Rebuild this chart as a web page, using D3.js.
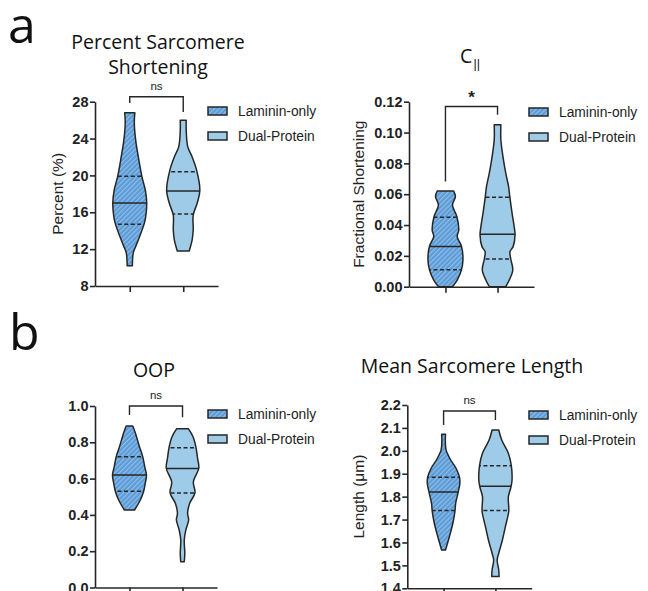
<!DOCTYPE html>
<html><head><meta charset="utf-8">
<script src="https://cdn.jsdelivr.net/npm/d3@7"></script>
<style>body{margin:0;background:#fff}</style>
</head><body>
<svg id="c" width="648" height="591"></svg>
<script>
// ---------------- DATA ----------------
const groups = ["Laminin-only", "Dual-Protein"];

// Percent Sarcomere Shortening (value, relative density) + quartiles [Q1, median, Q3]
const pssTicks = [8, 12, 16, 20, 24, 28];
const pssLamV = [26.8, 25.7, 23.8, 22.0, 19.9, 18.4, 17.0, 15.5, 14.8, 13.4, 12.3, 11.6, 10.2];
const pssLamD = [0.29, 0.26, 0.34, 0.49, 0.69, 0.89, 0.97, 0.91, 0.83, 0.57, 0.34, 0.20, 0.15];
const pssLamQ = [14.7, 17.0, 19.9];
const pssDualV = [26.0, 24.9, 23.1, 22.0, 20.6, 18.4, 17.0, 15.7, 14.1, 13.0, 11.8];
const pssDualD = [0.17, 0.17, 0.26, 0.51, 0.76, 0.95, 0.80, 0.57, 0.57, 0.51, 0.34];
const pssDualQ = [15.8, 18.3, 20.4];

// C-parallel fractional shortening
const cTicks = [0, 0.02, 0.04, 0.06, 0.08, 0.10, 0.12];
const cLamV = [0.062, 0.0585, 0.053, 0.0455, 0.0368, 0.0325, 0.0264, 0.0173, 0.0108, 0.0043, 0.0];
const cLamD = [0.47, 0.57, 0.40, 0.65, 0.76, 0.67, 0.91, 1.00, 0.91, 0.67, 0.40];
const cLamQ = [0.011, 0.026, 0.045];
const cDualV = [0.105, 0.0953, 0.0844, 0.0736, 0.065, 0.0584, 0.0477, 0.039, 0.0336, 0.026, 0.0227, 0.0178, 0.0108, 0.0043, 0.0];
const cDualD = [0.19, 0.19, 0.31, 0.47, 0.63, 0.70, 0.83, 0.95, 1.00, 0.89, 0.71, 0.76, 0.87, 0.67, 0.47];
const cDualQ = [0.018, 0.034, 0.058];

// OOP
const oopTicks = [0, 0.2, 0.4, 0.6, 0.8, 1.0];
const oopLamV = [0.89, 0.85, 0.776, 0.72, 0.666, 0.62, 0.574, 0.53, 0.482, 0.427];
const oopLamD = [0.19, 0.34, 0.57, 0.76, 0.87, 0.97, 0.90, 0.81, 0.62, 0.29];
const oopLamQ = [0.53, 0.62, 0.72];
const oopDualV = [0.875, 0.831, 0.776, 0.712, 0.657, 0.583, 0.522, 0.464, 0.409, 0.372, 0.317, 0.262, 0.188, 0.142];
const oopDualD = [0.33, 0.60, 0.76, 0.86, 0.93, 0.62, 0.71, 0.41, 0.29, 0.35, 0.19, 0.10, 0.13, 0.10];
const oopDualQ = [0.52, 0.655, 0.77];

// Mean Sarcomere Length
const mslTicks = [1.4, 1.5, 1.6, 1.7, 1.8, 1.9, 2.0, 2.1, 2.2];
const mslLamV = [2.072, 2.047, 2.004, 1.96, 1.924, 1.885, 1.858, 1.819, 1.771, 1.737, 1.684, 1.625, 1.567];
const mslLamD = [0.11, 0.10, 0.14, 0.41, 0.71, 0.91, 0.93, 0.83, 0.69, 0.65, 0.53, 0.33, 0.11];
const mslLamQ = [1.74, 1.82, 1.885];
const mslDualV = [2.091, 2.047, 1.989, 1.934, 1.873, 1.843, 1.8, 1.756, 1.734, 1.669, 1.611, 1.553, 1.524, 1.48, 1.451];
const mslDualD = [0.19, 0.36, 0.74, 0.91, 0.95, 0.89, 0.74, 0.76, 0.76, 0.57, 0.40, 0.19, 0.10, 0.19, 0.21];
const mslDualQ = [1.74, 1.845, 1.935];

// ---------------- LAYOUT / STYLE ----------------
const INK = "#262626";
const lamFill = "#5b9bd6", lamHatch = "#93c0ea", dualFill = "#9ecbe8";
const titleFont = "'Open Sans', 'Noto Sans', sans-serif";
const sansFont = "'Liberation Sans', Arial, sans-serif";

const svg = d3.select("#c");
const defs = svg.append("defs");
const pat = defs.append("pattern").attr("id", "hatch").attr("patternUnits", "userSpaceOnUse")
  .attr("width", 3.4).attr("height", 3.4).attr("patternTransform", "rotate(45)");
pat.append("rect").attr("width", 3.4).attr("height", 3.4).attr("fill", lamFill);
pat.append("line").attr("x1", 0.6).attr("y1", 0).attr("x2", 0.6).attr("y2", 3.4)
  .attr("stroke", lamHatch).attr("stroke-width", 1.1);

const panels = [
  { title: ["Percent Sarcomere", "Shortening"], titleX: 158, titleY: [49, 74],
    left: 95, right: 218, top: 101.7, bottom: 286, domain: [8, 28], ticks: pssTicks, fmt: d3.format("d"), pad: 0.65,
    ylabel: "Percent (%)", ylabelDx: -38, legendX: 208, legendY: 107,
    bracket: { y: 28.54, l: 27.86, r: 26.88, text: "ns" },
    vio: [[pssLamV, pssLamD, pssLamQ], [pssDualV, pssDualD, pssDualQ]] },
  { title: null, titleX: 470, titleY: [63],
    left: 409, right: 534, top: 101.7, bottom: 286.7, domain: [0, 0.12], ticks: cTicks, fmt: d3.format(".2f"), pad: 0.7,
    ylabel: "Fractional Shortening", ylabelDx: -51, legendX: 529, legendY: 108,
    bracket: { y: 0.1169, l: 0.0682, r: 0.1115, text: "*" },
    vio: [[cLamV, cLamD, cLamQ], [cDualV, cDualD, cDualQ]] },
  { title: ["OOP"], titleX: 154, titleY: [377],
    left: 95, right: 217, top: 406, bottom: 587.5, domain: [0, 1.0], ticks: oopTicks, fmt: d3.format(".1f"), pad: 0.65,
    ylabel: null, ylabelDx: -38, legendX: 208, legendY: 410,
    bracket: { y: 1.0, l: 0.95, r: 0.938, text: "ns" },
    vio: [[oopLamV, oopLamD, oopLamQ], [oopDualV, oopDualD, oopDualQ]] },
  { title: ["Mean Sarcomere Length"], titleX: 472, titleY: [373],
    left: 407.3, right: 531.7, top: 405, bottom: 588.3, domain: [1.4, 2.2], ticks: mslTicks, fmt: d3.format(".1f"), pad: 0.7,
    ylabel: "Length (\u03bcm)", ylabelDx: -49, legendX: 529, legendY: 411,
    bracket: { y: 2.174, l: 2.113, r: 2.135, text: "ns" },
    vio: [[mslLamV, mslLamD, mslLamQ], [mslDualV, mslDualD, mslDualQ]] }
];

// Panel letters
svg.append("text").attr("x", 8).attr("y", 43).attr("font-family", titleFont).attr("font-size", 50)
  .attr("fill", "#111").text("a");
svg.append("text").attr("x", 9).attr("y", 350).attr("font-family", titleFont).attr("font-size", 50)
  .attr("fill", "#111").text("b");

const wScale = d3.scaleLinear().domain([0, 1]).range([0, 17.5]);
let clipN = 0;

panels.forEach((p, pi) => {
  const g = svg.append("g");
  const y = d3.scaleLinear().domain(p.domain).range([p.bottom, p.top]);
  const x = d3.scalePoint().domain(groups).range([p.left, p.right]).padding(p.pad);

  // title
  if (p.title) {
    p.title.forEach((t, i) => {
      g.append("text").attr("x", p.titleX).attr("y", p.titleY[i]).attr("text-anchor", "middle")
        .attr("font-family", titleFont).attr("font-size", 19.5).attr("fill", "#111").text(t);
    });
  } else {
    const t = g.append("text").attr("x", p.titleX).attr("y", p.titleY[0]).attr("text-anchor", "middle")
      .attr("font-family", titleFont).attr("font-size", 19.5).attr("fill", "#111");
    t.append("tspan").text("C");
    t.append("tspan").attr("font-family", sansFont).attr("font-size", 12.5).attr("dy", 5).attr("dx", 1).text("||");
  }

  // violins
  p.vio.forEach((vd, gi) => {
    const [V, D, Q] = vd;
    const cx = x(groups[gi]);
    const pts = d3.zip(V, D);
    const area = d3.area().curve(d3.curveCatmullRom.alpha(0.5))
      .y(d => y(d[0])).x0(d => cx - wScale(d[1])).x1(d => cx + wScale(d[1]));
    const id = "clip" + (clipN++);
    defs.append("clipPath").attr("id", id).append("path").attr("d", area(pts));
    g.append("path").attr("d", area(pts)).attr("fill", gi === 0 ? "url(#hatch)" : dualFill);
    Q.forEach((q, qi) => {
      g.append("line").attr("clip-path", `url(#${id})`)
        .attr("x1", cx - 25).attr("x2", cx + 25).attr("y1", y(q)).attr("y2", y(q))
        .attr("stroke", INK).attr("stroke-width", 1.5)
        .attr("stroke-dasharray", qi === 1 ? null : "4,2.5");
    });
    g.append("path").attr("d", area(pts)).attr("fill", "none").attr("stroke", INK).attr("stroke-width", 1.5)
      .attr("stroke-linejoin", "round");
  });

  // y axis
  const ya = g.append("g").attr("transform", `translate(${p.left},0)`)
    .call(d3.axisLeft(y).tickValues(p.ticks).tickFormat(p.fmt).tickSize(5).tickSizeOuter(0).tickPadding(1.5));
  ya.select(".domain").attr("stroke", INK).attr("stroke-width", 1.6);
  ya.selectAll(".tick line").attr("stroke", INK).attr("stroke-width", 1.6);
  ya.selectAll(".tick text").attr("font-family", sansFont).attr("font-weight", "bold")
    .attr("font-size", 14.5).attr("fill", "#222");

  // x axis
  const xa = g.append("g").attr("transform", `translate(0,${p.bottom})`)
    .call(d3.axisBottom(x).tickSize(6).tickSizeOuter(0).tickFormat(""));
  xa.select(".domain").attr("stroke", INK).attr("stroke-width", 1.6);
  xa.selectAll(".tick line").attr("stroke", INK).attr("stroke-width", 1.6);

  // y label
  if (p.ylabel) {
    g.append("text").attr("transform", `translate(${p.left + p.ylabelDx},${(p.top + p.bottom) / 2}) rotate(-90)`)
      .attr("text-anchor", "middle").attr("dominant-baseline", "central")
      .attr("font-family", sansFont).attr("font-size", 15.5).attr("fill", "#222").text(p.ylabel);
  }

  // bracket
  const x0 = x(groups[0]), x1 = x(groups[1]);
  const b = p.bracket;
  g.append("path").attr("fill", "none").attr("stroke", INK).attr("stroke-width", 1.4)
    .attr("d", `M${x0},${y(b.l)}V${y(b.y)}H${x1}V${y(b.r)}`);
  g.append("text").attr("x", (x0 + x1) / 2).attr("y", y(b.y) - (b.text === "*" ? 3 : 7))
    .attr("text-anchor", "middle").attr("font-family", sansFont)
    .attr("font-size", b.text === "*" ? 17 : 11.5).attr("font-weight", b.text === "*" ? "bold" : "normal")
    .attr("fill", "#222").text(b.text);

  // legend
  groups.forEach((gr, gi) => {
    const ly = p.legendY + gi * 25;
    g.append("rect").attr("x", p.legendX).attr("y", ly).attr("width", 19).attr("height", 8)
      .attr("fill", gi === 0 ? "url(#hatch)" : dualFill).attr("stroke", INK).attr("stroke-width", 1.5);
    g.append("text").attr("x", p.legendX + 30).attr("y", ly + 4).attr("dominant-baseline", "central")
      .attr("font-family", sansFont).attr("font-size", 13.8).attr("fill", "#222").text(gr);
  });
});
</script>
</body></html>
